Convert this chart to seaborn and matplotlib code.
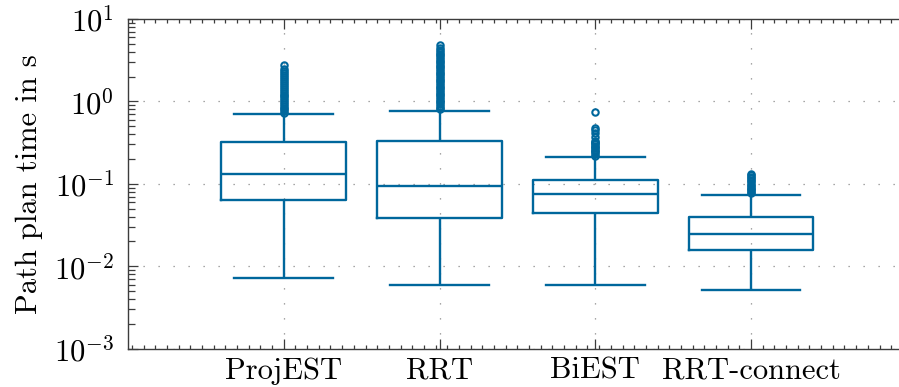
import numpy as np
import pandas as pd
import matplotlib
matplotlib.use("Agg")
import matplotlib.pyplot as plt
import matplotlib.ticker as mticker
import seaborn as sns

# Box summary (seconds)
methods = ["ProjEST", "RRT", "BiEST", "RRT-connect"]
whisk_lo = [0.0073, 0.0059, 0.0059, 0.0051]
q1 = [0.064, 0.039, 0.0437, 0.0157]
median = [0.131, 0.0946, 0.0743, 0.0248]
q3 = [0.320, 0.332, 0.112, 0.0395]
whisk_hi = [0.70, 0.765, 0.212, 0.074]

out_projest = [0.73, 0.76, 0.80, 0.84, 0.88, 0.93, 0.98, 1.03, 1.09, 1.15, 1.21,
               1.28, 1.35, 1.42, 1.50, 1.58, 1.67, 1.76, 1.86, 1.96, 2.07, 2.20,
               2.35, 2.50, 2.80]
out_rrt = [0.80, 0.84, 0.88, 0.93, 0.97, 1.02, 1.07, 1.13, 1.18, 1.24, 1.30, 1.37,
           1.44, 1.51, 1.58, 1.66, 1.75, 1.83, 1.92, 2.02, 2.12, 2.23, 2.34, 2.46,
           2.58, 2.71, 2.84, 2.98, 3.13, 3.29, 3.45, 3.62, 3.80, 4.00, 4.20, 4.45,
           4.77]
out_biest = [0.22, 0.23, 0.24, 0.25, 0.26, 0.27, 0.28, 0.29, 0.30, 0.31, 0.32,
             0.33, 0.37, 0.41, 0.45, 0.48, 0.75]
out_rrtc = [0.077, 0.080, 0.083, 0.086, 0.090, 0.094, 0.098, 0.102, 0.107, 0.112,
            0.117, 0.122, 0.127, 0.131]
outliers = [out_projest, out_rrt, out_biest, out_rrtc]


def samples(lo, a, med, b, hi, out):
    # repeat the read values so the quartiles land exactly on them
    m = len(out) + 1
    return [lo] + [a] * (2 * m - 1) + [med] + [b] * m + [hi] + list(out)


rows = []
for i, name in enumerate(methods):
    for v in samples(whisk_lo[i], q1[i], median[i], q3[i], whisk_hi[i], outliers[i]):
        rows.append((name, v))
df = pd.DataFrame(rows, columns=["method", "time"])

plt.rcParams["font.family"] = "serif"
plt.rcParams["font.serif"] = ["cmr10"]
plt.rcParams["mathtext.fontset"] = "cm"
plt.rcParams["axes.formatter.use_mathtext"] = True

color = "#00679c"
axis_col = "#3c3c3c"
fs = 22

fig = plt.figure(figsize=(8.99, 3.87), dpi=100)
ax = fig.add_axes([0.1424, 0.099, 1.0 - 0.1424, 0.951 - 0.099])

sns.boxplot(data=df, x="method", y="time", order=methods, color=color, fill=False,
            width=0.8, linewidth=1.7, capwidths=0.635, ax=ax,
            flierprops=dict(marker="o", markersize=4.6, markeredgewidth=1.5,
                            markeredgecolor=color, markerfacecolor="none"))

ax.set_yscale("log")
ax.set_ylim(1e-3, 1e1)
ax.set_xlim(-1, 3.95)

ax.yaxis.set_major_locator(mticker.LogLocator(base=10, numticks=10))
ax.yaxis.set_minor_locator(mticker.LogLocator(base=10, subs=np.arange(2, 10), numticks=20))
ax.yaxis.set_major_formatter(
    mticker.FuncFormatter(lambda v, p: r"$10^{%d}$" % int(round(np.log10(v)))))
ax.yaxis.set_minor_formatter(mticker.NullFormatter())
ax.xaxis.set_minor_locator(mticker.MultipleLocator(0.075))

ax.set_xlabel("")
ax.set_ylabel("Path plan time in s", fontsize=fs, labelpad=8)

ax.tick_params(axis="y", which="both", direction="in", left=True, right=False,
               color=axis_col, width=0.9, labelsize=fs, pad=10)
ax.tick_params(axis="y", which="major", length=7)
ax.tick_params(axis="y", which="minor", length=5)
ax.tick_params(axis="x", which="both", direction="in", bottom=True, top=True,
               color=axis_col, width=0.9, labelsize=fs, pad=6)
ax.tick_params(axis="x", which="major", length=7)
ax.tick_params(axis="x", which="minor", length=3)

for side in ["left", "top", "bottom"]:
    ax.spines[side].set_color(axis_col)
    ax.spines[side].set_linewidth(1.0)
ax.spines["right"].set_visible(False)

ax.grid(True, which="major", axis="both", color="#8a8a8a", linewidth=0.9,
        linestyle=(0, (1, 11)))
ax.set_axisbelow(True)

fig.savefig("out.png", dpi=100)
